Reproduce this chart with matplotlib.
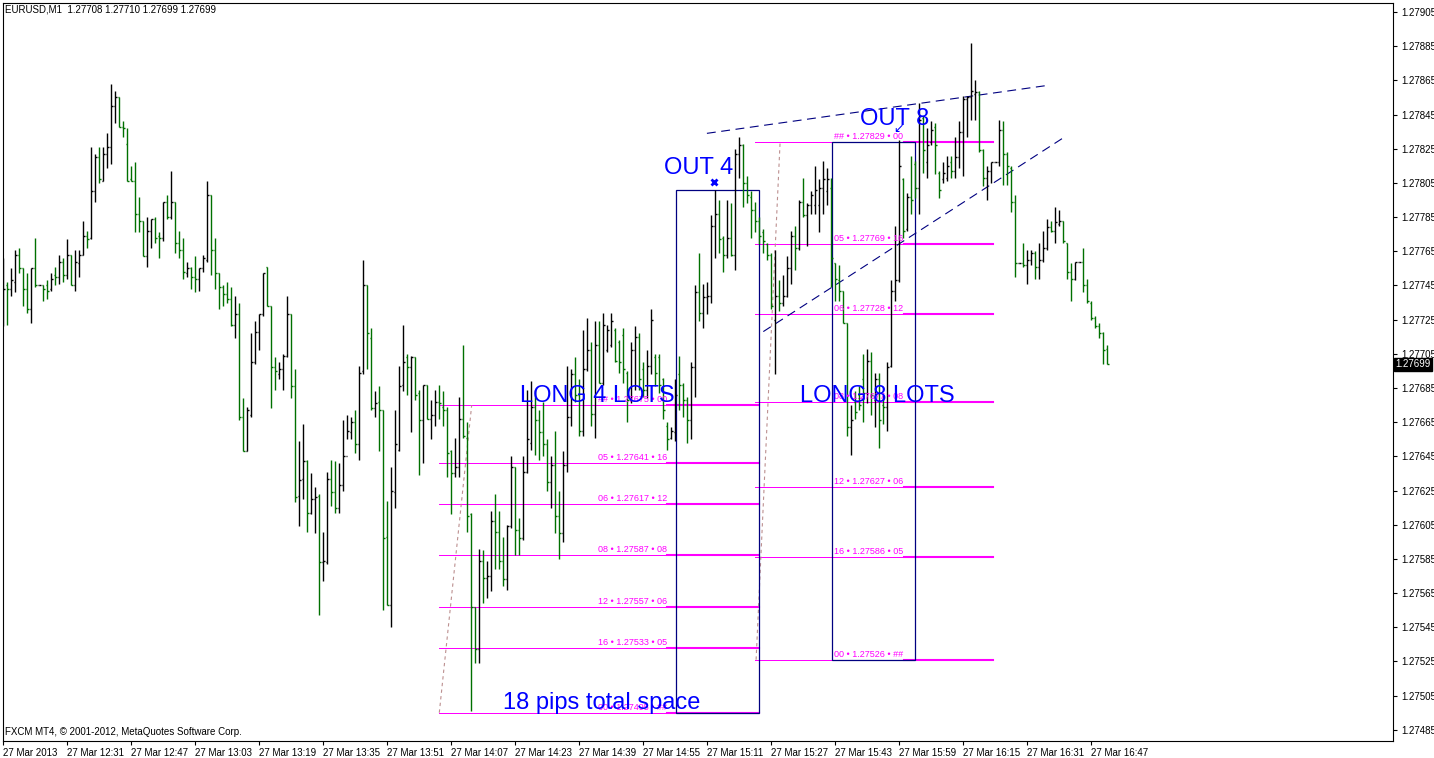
import matplotlib
matplotlib.use('Agg')
from matplotlib import pyplot as plt
from matplotlib import transforms
import numpy as np

plt.rcParams['font.family'] = ['Liberation Sans', 'DejaVu Sans']

header = 'EURUSD,M1  1.27708 1.27710 1.27699 1.27699'
footer = 'FXCM MT4, \u00a9 2001-2012, MetaQuotes Software Corp.'

# M1 bars 27 Mar 2013 12:15 .. 16:51, prices in 1e-5 units
opens = [
    127736, 127745, 127743, 127747, 127763, 127755, 127743, 127731, 127755, 127745,
    127745, 127745, 127743, 127751, 127750, 127759, 127751, 127763, 127745, 127758,
    127763, 127774, 127773, 127800, 127820, 127806, 127822, 127826, 127850, 127855,
    127838, 127828, 127807, 127806, 127787, 127783, 127762, 127777, 127784, 127774,
    127773, 127794, 127785, 127794, 127770, 127766, 127752, 127755, 127750, 127749,
    127755, 127760, 127798, 127766, 127752, 127744, 127740, 127737, 127722, 127728,
    127668, 127648, 127669, 127700, 127718, 127728, 127756, 127733, 127697, 127693,
    127696, 127704, 127728, 127686, 127622, 127632, 127642, 127612, 127620, 127622,
    127583, 127583, 127632, 127624, 127615, 127628, 127645, 127659, 127665, 127652,
    127695, 127745, 127714, 127673, 127677, 127672, 127598, 127558, 127624, 127649,
    127687, 127703, 127697, 127703, 127682, 127666, 127687, 127667, 127669, 127677,
    127674, 127672, 127648, 127635, 127639, 127667, 127656, 127611, 127557, 127532,
    127584, 127574, 127575, 127607, 127601, 127584, 127573, 127604, 127639, 127602,
    127597, 127636, 127653, 127674, 127666, 127659, 127652, 127630, 127640, 127610,
    127600, 127640, 127668, 127693, 127681, 127660, 127696, 127707, 127670, 127710,
    127688, 127707, 127710, 127719, 127712, 127716, 127694, 127678, 127707, 127715,
    127696, 127684, 127698, 127703, 127703, 127690, 127663, 127656, 127659, 127693,
    127687, 127678, 127666, 127697, 127741, 127729, 127738, 127739, 127780, 127787,
    127773, 127763, 127773, 127763, 127822, 127827, 127805, 127797, 127789, 127783,
    127776, 127769, 127763, 127725, 127739, 127735, 127739, 127755, 127774, 127767,
    127794, 127786, 127792, 127792, 127792, 127802, 127800, 127802, 127758, 127748,
    127742, 127723, 127662, 127677, 127681, 127690, 127682, 127701, 127678, 127690,
    127675, 127674, 127698, 127742, 127748, 127807, 127778, 127797, 127816, 127802,
    127843, 127817, 127829, 127838, 127811, 127807, 127808, 127817, 127812, 127820,
    127835, 127854, 127855, 127857, 127858, 127824, 127808, 127812, 127817, 127817,
    127836, 127822, 127814, 127794, 127758, 127758, 127757, 127760, 127764, 127756,
    127760, 127767, 127779, 127777, 127781, 127783, 127770, 127753, 127749, 127759,
    127759, 127745, 127735, 127726, 127721, 127717, 127708,
]
highs = [
    127761, 127747, 127755, 127766, 127767, 127755, 127752, 127755, 127773, 127745,
    127745, 127748, 127752, 127756, 127763, 127761, 127772, 127763, 127766, 127766,
    127783, 127777, 127826, 127822, 127826, 127826, 127834, 127863, 127859, 127855,
    127841, 127837, 127815, 127817, 127797, 127783, 127785, 127784, 127785, 127776,
    127794, 127798, 127812, 127794, 127777, 127773, 127759, 127756, 127762, 127755,
    127763, 127806, 127798, 127773, 127752, 127745, 127747, 127744, 127739, 127735,
    127679, 127674, 127717, 127724, 127728, 127752, 127756, 127733, 127703, 127700,
    127705, 127739, 127728, 127696, 127654, 127664, 127643, 127635, 127627, 127623,
    127601, 127636, 127643, 127642, 127641, 127666, 127669, 127668, 127672, 127698,
    127760, 127745, 127720, 127683, 127686, 127672, 127619, 127639, 127672, 127698,
    127722, 127705, 127704, 127703, 127684, 127687, 127687, 127678, 127684, 127687,
    127683, 127674, 127649, 127656, 127680, 127710, 127665, 127612, 127557, 127591,
    127590, 127584, 127613, 127623, 127613, 127598, 127605, 127645, 127639, 127609,
    127645, 127684, 127689, 127684, 127672, 127677, 127655, 127645, 127660, 127625,
    127648, 127698, 127696, 127703, 127690, 127719, 127726, 127712, 127724, 127724,
    127729, 127722, 127729, 127720, 127713, 127720, 127695, 127712, 127721, 127717,
    127700, 127707, 127731, 127705, 127705, 127691, 127665, 127662, 127690, 127704,
    127688, 127680, 127700, 127745, 127764, 127746, 127747, 127786, 127801, 127795,
    127774, 127795, 127793, 127825, 127832, 127828, 127809, 127800, 127794, 127785,
    127778, 127770, 127764, 127766, 127748, 127751, 127762, 127777, 127780, 127795,
    127808, 127793, 127800, 127815, 127807, 127818, 127814, 127808, 127758, 127757,
    127742, 127723, 127675, 127683, 127686, 127705, 127708, 127706, 127694, 127694,
    127681, 127700, 127748, 127780, 127830, 127808, 127799, 127821, 127818, 127852,
    127844, 127837, 127841, 127840, 127812, 127817, 127821, 127821, 127832, 127841,
    127856, 127856, 127887, 127865, 127859, 127825, 127815, 127817, 127817, 127842,
    127841, 127823, 127815, 127798, 127758, 127770, 127766, 127766, 127765, 127770,
    127777, 127784, 127783, 127791, 127789, 127783, 127770, 127758, 127759, 127759,
    127767, 127749, 127736, 127727, 127723, 127718, 127710,
]
lows = [
    127721, 127722, 127739, 127741, 127752, 127733, 127729, 127723, 127744, 127745,
    127736, 127737, 127742, 127745, 127746, 127747, 127749, 127745, 127742, 127750,
    127763, 127767, 127772, 127794, 127805, 127806, 127814, 127816, 127840, 127838,
    127832, 127806, 127806, 127776, 127776, 127762, 127756, 127767, 127770, 127761,
    127771, 127784, 127784, 127764, 127761, 127749, 127750, 127743, 127741, 127742,
    127753, 127759, 127751, 127743, 127731, 127733, 127735, 127721, 127714, 127666,
    127648, 127648, 127668, 127699, 127707, 127727, 127733, 127673, 127684, 127690,
    127684, 127703, 127679, 127618, 127604, 127620, 127601, 127611, 127600, 127552,
    127572, 127582, 127616, 127612, 127612, 127625, 127655, 127655, 127647, 127643,
    127693, 127696, 127672, 127668, 127648, 127555, 127558, 127545, 127615, 127648,
    127683, 127681, 127659, 127678, 127634, 127641, 127667, 127655, 127663, 127667,
    127663, 127633, 127611, 127633, 127633, 127656, 127601, 127496, 127524, 127524,
    127559, 127562, 127566, 127579, 127579, 127569, 127567, 127603, 127587, 127587,
    127596, 127635, 127649, 127646, 127643, 127645, 127625, 127615, 127600, 127585,
    127595, 127636, 127663, 127677, 127657, 127657, 127695, 127663, 127656, 127688,
    127687, 127706, 127709, 127700, 127694, 127688, 127665, 127676, 127684, 127684,
    127680, 127679, 127693, 127686, 127682, 127667, 127649, 127655, 127654, 127672,
    127668, 127653, 127655, 127680, 127724, 127720, 127728, 127735, 127761, 127764,
    127753, 127761, 127762, 127754, 127808, 127791, 127793, 127773, 127776, 127769,
    127764, 127760, 127731, 127693, 127730, 127733, 127738, 127746, 127754, 127766,
    127785, 127768, 127787, 127787, 127776, 127787, 127792, 127744, 127736, 127736,
    127723, 127657, 127646, 127667, 127672, 127665, 127676, 127669, 127662, 127650,
    127664, 127660, 127697, 127736, 127747, 127773, 127777, 127787, 127796, 127787,
    127811, 127808, 127827, 127810, 127796, 127805, 127806, 127808, 127808, 127814,
    127809, 127832, 127842, 127842, 127823, 127803, 127795, 127805, 127817, 127815,
    127804, 127804, 127788, 127750, 127758, 127756, 127746, 127757, 127749, 127749,
    127759, 127766, 127776, 127770, 127780, 127770, 127749, 127736, 127748, 127759,
    127741, 127735, 127725, 127720, 127714, 127699, 127699,
]
closes = [
    127743, 127743, 127748, 127763, 127755, 127743, 127731, 127755, 127745, 127745,
    127743, 127742, 127749, 127750, 127759, 127751, 127763, 127745, 127759, 127763,
    127774, 127772, 127800, 127820, 127807, 127822, 127826, 127850, 127855, 127838,
    127837, 127806, 127806, 127787, 127783, 127762, 127777, 127784, 127773, 127773,
    127794, 127785, 127794, 127770, 127766, 127753, 127755, 127750, 127749, 127755,
    127761, 127798, 127766, 127752, 127744, 127740, 127737, 127722, 127728, 127668,
    127648, 127672, 127700, 127718, 127728, 127752, 127733, 127697, 127695, 127696,
    127704, 127728, 127686, 127621, 127631, 127642, 127612, 127620, 127621, 127583,
    127584, 127632, 127624, 127615, 127628, 127645, 127660, 127665, 127652, 127694,
    127745, 127717, 127673, 127676, 127672, 127597, 127558, 127625, 127652, 127686,
    127700, 127697, 127703, 127681, 127666, 127687, 127667, 127669, 127677, 127676,
    127672, 127647, 127635, 127639, 127667, 127657, 127610, 127557, 127532, 127584,
    127574, 127575, 127607, 127601, 127584, 127573, 127604, 127639, 127602, 127597,
    127636, 127655, 127674, 127666, 127659, 127652, 127630, 127640, 127610, 127600,
    127640, 127668, 127693, 127681, 127660, 127696, 127707, 127670, 127710, 127688,
    127722, 127719, 127724, 127701, 127700, 127696, 127678, 127707, 127715, 127690,
    127684, 127698, 127725, 127694, 127687, 127672, 127655, 127660, 127681, 127687,
    127678, 127666, 127697, 127741, 127729, 127738, 127739, 127780, 127787, 127772,
    127763, 127773, 127763, 127822, 127827, 127805, 127798, 127789, 127783, 127774,
    127771, 127763, 127733, 127739, 127735, 127739, 127755, 127774, 127767, 127794,
    127786, 127792, 127798, 127801, 127802, 127807, 127807, 127761, 127749, 127742,
    127723, 127662, 127666, 127671, 127675, 127682, 127701, 127681, 127690, 127666,
    127674, 127697, 127742, 127748, 127815, 127777, 127797, 127795, 127802, 127842,
    127824, 127827, 127836, 127827, 127801, 127811, 127815, 127812, 127820, 127835,
    127854, 127855, 127859, 127858, 127824, 127808, 127812, 127817, 127817, 127836,
    127822, 127815, 127794, 127758, 127758, 127757, 127760, 127764, 127756, 127760,
    127767, 127779, 127777, 127782, 127783, 127771, 127753, 127749, 127759, 127759,
    127745, 127736, 127726, 127721, 127717, 127707, 127699,
]

time_labels = ['27 Mar 2013', '27 Mar 12:31', '27 Mar 12:47', '27 Mar 13:03', '27 Mar 13:19',
               '27 Mar 13:35', '27 Mar 13:51', '27 Mar 14:07', '27 Mar 14:23', '27 Mar 14:39',
               '27 Mar 14:55', '27 Mar 15:11', '27 Mar 15:27', '27 Mar 15:43', '27 Mar 15:59',
               '27 Mar 16:15', '27 Mar 16:31', '27 Mar 16:47']
label_step = 16
price_ticks = [1.27485, 1.27505, 1.27525, 1.27545, 1.27565, 1.27585, 1.27605, 1.27625,
               1.27645, 1.27665, 1.27685, 1.27705, 1.27725, 1.27745, 1.27765, 1.27785,
               1.27805, 1.27825, 1.27845, 1.27865, 1.27885, 1.27905]
last_price = 1.27699

# fibonacci "lot" levels
fib1_levels = [1.27675, 1.27641, 1.27617, 1.27587, 1.27557, 1.27533, 1.27495]
fib1_texts = ['## \u2022 1.27675 \u2022 00', '05 \u2022 1.27641 \u2022 16', '06 \u2022 1.27617 \u2022 12',
              '08 \u2022 1.27587 \u2022 08', '12 \u2022 1.27557 \u2022 06', '16 \u2022 1.27533 \u2022 05',
              '00 \u2022 1.27495 \u2022 ##']
fib2_levels = [1.27829, 1.27769, 1.27728, 1.27677, 1.27627, 1.27586, 1.27526]
fib2_texts = ['## \u2022 1.27829 \u2022 00', '05 \u2022 1.27769 \u2022 16', '06 \u2022 1.27728 \u2022 12',
              '08 \u2022 1.27677 \u2022 08', '12 \u2022 1.27627 \u2022 06', '16 \u2022 1.27586 \u2022 05',
              '00 \u2022 1.27526 \u2022 ##']

W, H = 1434, 758
fig = plt.figure(figsize=(W / 100, H / 100), dpi=100)
fig.patch.set_facecolor('white')
ax = fig.add_axes([3 / W, 17 / H, 1390 / W, 738 / H])

o = np.array(opens) / 1e5
hi = np.array(highs) / 1e5
lo = np.array(lows) / 1e5
c = np.array(closes) / 1e5
idx = np.arange(len(o))
cols = ['black' if cc >= oo else '#007000' for oo, cc in zip(o, c)]

bar_kw = dict(colors=cols, lw=1.0, snap=True, zorder=3)
ax.vlines(idx, lo, hi, **bar_kw)
ax.hlines(o, idx - 0.4, idx, **bar_kw)
ax.hlines(c, idx, idx + 0.4, **bar_kw)

MAG = '#FF00FF'
NAVY = '#000080'
BLUE = '#0000FF'

# fib 1 (long 4 lots)
for p, t in zip(fib1_levels, fib1_texts):
    ax.plot([109, 189], [p, p], color=MAG, lw=0.72, zorder=2)
    ax.plot([166.0, 189], [p, p], color=MAG, lw=1.5, zorder=2)
    ax.text(165.9, p + 0.000006, t, color=MAG, fontsize=6.5, ha='right', va='bottom', zorder=4)
ax.plot([109, 117.1], [1.27495, 1.27675], color='rosybrown', lw=0.8, dashes=(3, 3), zorder=2)

# fib 2 (long 8 lots)
for p, t in zip(fib2_levels, fib2_texts):
    ax.plot([188, 247.4], [p, p], color=MAG, lw=0.72, zorder=2)
    ax.plot([225.2, 247.4], [p, p], color=MAG, lw=1.5, zorder=2)
    ax.text(225.0, p + 0.000006, t, color=MAG, fontsize=6.5, ha='right', va='bottom', zorder=4)
ax.plot([188.2, 194.2], [1.27526, 1.27829], color='rosybrown', lw=0.8, dashes=(3, 3), zorder=2)

# boxes
ax.add_patch(plt.Rectangle((168.1, 1.27495), 20.9, 0.00306, fill=False, ec=NAVY, lw=0.9, zorder=2))
ax.add_patch(plt.Rectangle((207.1, 1.27526), 20.9, 0.00303, fill=False, ec=NAVY, lw=0.9, zorder=2))

# trend lines
ax.plot([175.9, 260.9], [1.27834, 1.27862], color=NAVY, lw=0.8, dashes=(8, 5), zorder=2)
ax.plot([190.0, 264.75], [1.27718, 1.27831], color=NAVY, lw=0.8, dashes=(8, 5), zorder=2)

# labels
ax.text(165.2, 1.27810, 'OUT 4', color=BLUE, fontsize=17, va='baseline', zorder=5)
ax.plot([177.75], [1.278057], marker='x', color=BLUE, ms=5, mew=2, zorder=5)
ax.text(214.2, 1.27839, 'OUT 8', color=BLUE, fontsize=17, va='baseline', zorder=5)
ax.text(223.7, 1.278365, '\u2199', color=BLUE, fontsize=9, ha='center', va='center', zorder=5)
ax.text(129.2, 1.27677, 'LONG 4 LOTS', color=BLUE, fontsize=17, va='baseline', zorder=5)
ax.text(199.2, 1.27677, 'LONG 8 LOTS', color=BLUE, fontsize=17, va='baseline', zorder=5)
ax.text(124.9, 1.27497, '18 pips total space', color=BLUE, fontsize=17, va='baseline', zorder=5)

# axes
ax.set_xlim(-0.075, 347.425)
ax.set_ylim(1.2747843, 1.2791027)
for s in ax.spines.values():
    s.set_linewidth(0.8)
    s.set_color('black')

ax.yaxis.tick_right()
ax.set_yticks(price_ticks)
ax.set_yticklabels(['%.5f' % p for p in price_ticks])
ax.tick_params(axis='y', direction='out', length=3, width=0.8, pad=3, labelsize=7)

xt = [k * label_step for k in range(len(time_labels))]
ax.set_xticks(xt)
ax.set_xticklabels(time_labels, ha='left')
ax.tick_params(axis='x', direction='out', length=3, width=0.8, pad=2, labelsize=7)

trans = transforms.blended_transform_factory(ax.transAxes, ax.transData)
ax.text(1.0015, last_price, '%.5f' % last_price, transform=trans, ha='left', va='center',
        fontsize=7, color='white', zorder=6,
        bbox=dict(boxstyle='square,pad=0.15', fc='black', ec='black'))

fig.text(5 / W, 1 - 10 / H, header, fontsize=7, va='center', ha='left')
fig.text(5 / W, 1 - 732 / H, footer, fontsize=7, va='center', ha='left')

fig.savefig('out.png', dpi=100, facecolor='white')
plt.close(fig)
